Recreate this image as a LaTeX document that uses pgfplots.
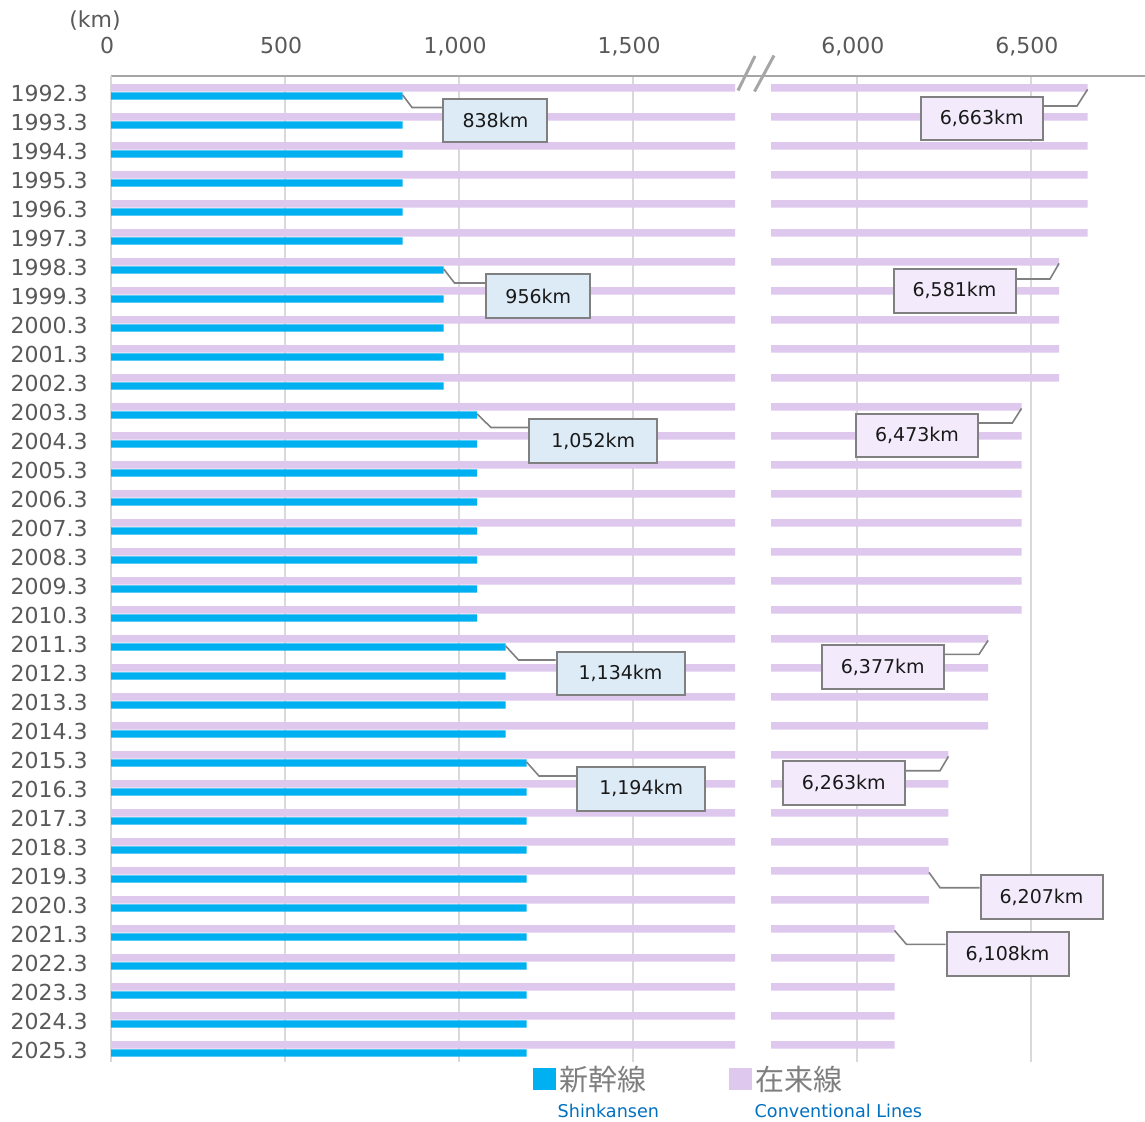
\documentclass[border=0pt]{standalone}
\usepackage{pgfplots}
\pgfplotsset{compat=1.18}
\usepackage{pgfplotstable}
\usepackage{fontspec}
\setmainfont{DejaVu Sans}
\newfontfamily\jp{Noto Sans CJK JP}
\definecolor{shin}{HTML}{00B0F0}
\definecolor{conv}{HTML}{DFC8EE}
\definecolor{gridc}{HTML}{D9D9D9}
\definecolor{axisc}{HTML}{A6A6A6}
\definecolor{lab}{HTML}{595959}
\definecolor{boxb}{HTML}{808080}
\definecolor{shinbox}{HTML}{DDEBF7}
\definecolor{convbox}{HTML}{F3EBFC}
\definecolor{engblue}{HTML}{0070C0}
\definecolor{jpgray}{HTML}{7F7F7F}

\pgfplotstableread{
idx shin conv
0 838 6663
1 838 6663
2 838 6663
3 838 6663
4 838 6663
5 838 6663
6 956 6581
7 956 6581
8 956 6581
9 956 6581
10 956 6581
11 1052 6473
12 1052 6473
13 1052 6473
14 1052 6473
15 1052 6473
16 1052 6473
17 1052 6473
18 1052 6473
19 1134 6377
20 1134 6377
21 1134 6377
22 1134 6377
23 1194 6263
24 1194 6263
25 1194 6263
26 1194 6263
27 1194 6207
28 1194 6207
29 1194 6108
30 1194 6108
31 1194 6108
32 1194 6108
33 1194 6108
}\data

\pgfplotsset{
  brk/.style={
    scale only axis, height=493pt,
    ymin=-33.45, ymax=0.55,
    axis x line*=top,
    x axis line style={draw=axisc, line width=0.75pt},
    major tick length=0pt,
    xmajorgrids, grid style={draw=gridc, line width=1pt},
    /pgf/number format/1000 sep={,},
    /pgf/number format/assume math mode=true,
    xticklabel style={anchor=base, yshift=11.5pt, xshift=-2pt, font=\fontsize{11}{13}\selectfont, text=lab},
  },
}

\begin{document}
\begin{tikzpicture}[x=0.5pt, y=-0.5pt]
\path[use as bounding box] (0,0) rectangle (1145,1121);

\begin{axis}[brk, at={(55.5pt,-38pt)}, anchor=north west, width=312pt,
  xmin=0, xmax=1793,
  axis y line*=left, y axis line style={draw=gridc, line width=1pt},
  xtick={0,500,1000,1500},
  ytick={-33,...,0},
  yticklabel={\pgfmathtruncatemacro{\yr}{1992-\tick}\yr.3},
  yticklabel style={anchor=east, inner sep=0pt, xshift=-11.5pt, yshift=-0.85pt, font=\fontsize{11}{13}\selectfont, text=lab},
]
\addplot[xbar, bar width=3.75pt, bar shift=0pt, fill=conv, draw=none] table[x=conv, y expr=-\thisrow{idx}+0.138] {\data};
\addplot[xbar, bar width=3.6pt, bar shift=0pt, fill=shin, draw=none] table[x=shin, y expr=-\thisrow{idx}-0.138] {\data};
\coordinate (s0) at (axis cs:838,-0.104);
\coordinate (s6) at (axis cs:956,-6.104);
\coordinate (s11) at (axis cs:1052,-11.104);
\coordinate (s19) at (axis cs:1134,-19.104);
\coordinate (s23) at (axis cs:1194,-23.104);
\end{axis}

\begin{axis}[brk, at={(385.5pt,-38pt)}, anchor=north west, width=187pt,
  xmin=5753, xmax=6828,
  axis y line=none, ytick=\empty,
  xtick={6000,6500},
]
\addplot[xbar, bar width=3.75pt, bar shift=0pt, fill=conv, draw=none] table[x=conv, y expr=-\thisrow{idx}+0.138] {\data};
\coordinate (c0) at (axis cs:6663,0.088);
\coordinate (c6) at (axis cs:6581,-5.912);
\coordinate (c11) at (axis cs:6473,-10.912);
\coordinate (c19) at (axis cs:6377,-18.912);
\coordinate (c23) at (axis cs:6263,-22.912);
\coordinate (c27) at (axis cs:6207,-26.912);
\coordinate (c29) at (axis cs:6108,-28.912);
\end{axis}

% axis line across the break and break marks
\draw[axisc, line width=0.75pt] (735,76) -- (771,76);
\draw[axisc, line width=1.5pt] (738,90.5) -- (755,56);
\draw[axisc, line width=1.5pt] (754.5,91.5) -- (774,55.5);

% unit
\node[text=lab, font=\fontsize{11}{13}\selectfont, inner sep=0pt] at (95,21) {(km)};

% callouts
\tikzset{leader/.style={draw=boxb, line width=0.8pt},
  cb/.style={draw=boxb, line width=1pt, inner sep=0pt, minimum height=21.75pt, font=\fontsize{9.5}{11}\selectfont, text=black!90}}

\node[cb, fill=shinbox, minimum width=52pt] (b0) at (495.4,120.7) {838km};
\draw[leader] (s0) -- (412,107.5) coordinate (e) -- (e -| b0.west);
\node[cb, fill=shinbox, minimum width=52pt] (b6) at (538.3,296) {956km};
\draw[leader] (s6) -- (454.5,283) coordinate (e) -- (e -| b6.west);
\node[cb, fill=shinbox, minimum width=64pt] (b11) at (593.3,441) {1,052km};
\draw[leader] (s11) -- (491,427.5) coordinate (e) -- (e -| b11.west);
\node[cb, fill=shinbox, minimum width=64pt] (b19) at (620.5,673.3) {1,134km};
\draw[leader] (s19) -- (518.5,660) coordinate (e) -- (e -| b19.west);
\node[cb, fill=shinbox, minimum width=64pt] (b23) at (641.2,788.8) {1,194km};
\draw[leader] (s23) -- (539,776) coordinate (e) -- (e -| b23.west);

\node[cb, fill=convbox, minimum width=61pt] (d0) at (981.7,118.3) {6,663km};
\draw[leader] (c0) -- (1077,106) coordinate (e) -- (e -| d0.east);
\node[cb, fill=convbox, minimum width=61pt] (d6) at (954.5,290.8) {6,581km};
\draw[leader] (c6) -- (1050,279) coordinate (e) -- (e -| d6.east);
\node[cb, fill=convbox, minimum width=61pt] (d11) at (917,435.3) {6,473km};
\draw[leader] (c11) -- (1012.3,423) coordinate (e) -- (e -| d11.east);
\node[cb, fill=convbox, minimum width=61pt] (d19) at (882.8,667) {6,377km};
\draw[leader] (c19) -- (979,654.3) coordinate (e) -- (e -| d19.east);
\node[cb, fill=convbox, minimum width=61pt] (d23) at (843.8,783) {6,263km};
\draw[leader] (c23) -- (940,770.7) coordinate (e) -- (e -| d23.east);
\node[cb, fill=convbox, minimum width=61pt] (d27) at (1041.5,897) {6,207km};
\draw[leader] (c27) -- (940,887.7) coordinate (e) -- (e -| d27.west);
\node[cb, fill=convbox, minimum width=61pt] (d29) at (1007.5,954) {6,108km};
\draw[leader] (c29) -- (906.4,944.3) coordinate (e) -- (e -| d29.west);

% legend
\fill[shin] (533.3,1067.7) rectangle (556,1090);
\node[anchor=west, inner sep=0pt, text=jpgray, font=\jp\fontsize{14.5}{16}\selectfont] at (559,1079) {新幹線};
\node[anchor=base west, inner sep=0pt, text=engblue, font=\fontsize{8.8}{10}\selectfont] at (557.3,1117.3) {Shinkansen};
\fill[conv] (729,1067.7) rectangle (751.7,1090);
\node[anchor=west, inner sep=0pt, text=jpgray, font=\jp\fontsize{14.5}{16}\selectfont] at (755,1079) {在来線};
\node[anchor=base west, inner sep=0pt, text=engblue, font=\fontsize{8.8}{10}\selectfont] at (754.3,1117.3) {Conventional Lines};
\end{tikzpicture}
\end{document}
